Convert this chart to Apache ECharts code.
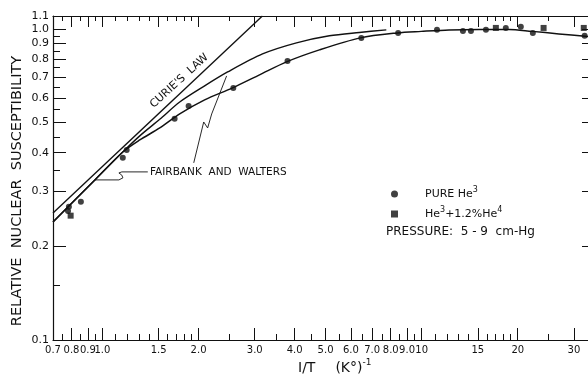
<!DOCTYPE html>
<html><head><meta charset="utf-8">
<script src="https://cdn.jsdelivr.net/npm/echarts@6/dist/echarts.min.js"></script>
<style>html,body{margin:0;padding:0;background:#fff}#c{width:588px;height:383px}</style>
</head><body><div id="c"></div>
<script>
// ---- axis ticks / labels ----
const xMajorTicks = [0.7,0.8,0.9,1,1.5,2,3,4,5,6,7,8,9,10,15,20,30];
const xTickLabels = ['0.7','0.8','0.9','1.0','1.5','2.0','3.0','4.0','5.0','6.0','7.0','8.0','9.0','10','15','20','30'];
const xMinorTicks = [0.75,0.85,0.95,1.1,1.2,1.3,1.4,1.6,1.7,1.8,1.9,2.5,3.5,4.5,5.5,6.5,7.5,8.5,9.5,11,12,13,14,16,17,18,19,25];
const yMajorTicks = [0.1,0.2,0.3,0.4,0.5,0.6,0.7,0.8,0.9,1.0,1.1];
const yTickLabels = ['0.1','0.2','0.3','0.4','0.5','0.6','0.7','0.8','0.9','1.0','1.1'];
const yMinorTicks = [0.15,0.35,0.45,0.55,0.65,0.75,0.85,0.95];

// ---- data: [1/T, relative susceptibility] ----
const pureHe3 = [[0.78,0.260],[0.785,0.268],[0.856,0.278],[1.158,0.385],[1.191,0.408],[1.683,0.514],[1.862,0.565],[2.57,0.646],[3.80,0.789],[6.47,0.935],[8.44,0.970],[11.17,0.993],[13.47,0.985],[14.27,0.985],[15.9,0.993],[18.35,1.007],[20.45,1.015],[22.3,0.970],[32.4,0.950]];
const he3He4 = [[0.795,0.251],[17.08,1.007],[24.1,1.007],[32.2,1.007]];
const curieLaw = [[0.7,0.256],[3.17,1.1]];
const fairbankWalters = [[0.7,0.2395],[0.947,0.327],[1.158,0.402],[1.309,0.453],[1.512,0.512],[1.746,0.582],[2.09,0.656],[2.467,0.727],[3.173,0.831],[4.054,0.902],[5.14,0.950],[6.38,0.974],[7.75,0.993]];
const fitCurve = [[0.7,0.2395],[0.947,0.327],[1.158,0.402],[1.309,0.4395],[1.512,0.4803],[1.746,0.533],[2.09,0.5914],[2.557,0.6463],[3.105,0.7114],[3.772,0.7833],[4.783,0.856],[6.427,0.9357],[8.388,0.9707],[9.97,0.9817],[12.19,0.9926],[15.13,0.9963],[18.78,0.9963],[22.16,0.9817],[26.92,0.9636],[33.2,0.9443]];
const pointerFW1 = [[0.947,0.327],[1.126,0.327],[1.159,0.332],[1.150,0.3387],[1.126,0.3443],[1.150,0.347],[1.387,0.347]];
const pointerFW2 = [[1.932,0.371],[2.076,0.502],[2.136,0.4803],[2.199,0.5327],[2.449,0.7059]];

const xMin = 0.7, xMax = 33.2, yMin = 0.1, yMax = 1.1;
const INK = '#111';
const FONT = "'DejaVu Sans', sans-serif";

function labelFor(v, ticks, labels) {
  for (let i = 0; i < ticks.length; i++) {
    if (Math.abs(ticks[i] - v) / ticks[i] < 1e-4) return labels[i];
  }
  return '';
}

function xAx(pos, ticks, len, line, labels) {
  return {
    type: 'log', min: xMin, max: xMax, position: pos,
    axisLine: {show: line, lineStyle: {color: INK, width: 1.2}},
    axisTick: {show: true, inside: true, length: len, customValues: ticks, lineStyle: {color: INK, width: 1}},
    axisLabel: labels ? {show: true, customValues: xMajorTicks, margin: 5, color: INK, fontFamily: FONT, fontSize: 10,
      formatter: v => labelFor(v, xMajorTicks, xTickLabels)} : {show: false},
    splitLine: {show: false}, minorTick: {show: false}
  };
}
function yAx(pos, ticks, len, line, labels) {
  return {
    type: 'log', min: yMin, max: yMax, position: pos,
    axisLine: {show: line, lineStyle: {color: INK, width: 1.2}},
    axisTick: {show: true, inside: true, length: len, customValues: ticks, lineStyle: {color: INK, width: 1}},
    axisLabel: labels ? {show: true, customValues: yMajorTicks, margin: 4, color: INK, fontFamily: FONT, fontSize: 11,
      formatter: v => labelFor(v, yMajorTicks, yTickLabels)} : {show: false},
    splitLine: {show: false}, minorTick: {show: false}
  };
}

const chart = echarts.init(document.getElementById('c'), null, {renderer: 'canvas'});
const lineS = (name, data, w, smooth) => ({
  name, type: 'line', data, xAxisIndex: 0, yAxisIndex: 0, showSymbol: false, symbol: 'none',
  smooth: smooth, lineStyle: {color: INK, width: w}, z: 2, silent: true
});
chart.setOption({
  animation: false,
  backgroundColor: '#fff',
  grid: {left: 53, right: -1, top: 16, bottom: 43, containLabel: false},
  xAxis: [
    xAx('bottom', xMajorTicks, 12, true, true),
    xAx('bottom', xMinorTicks, 6, false, false),
    xAx('top', xMajorTicks, 11, true, false),
    xAx('top', xMinorTicks, 5, false, false)
  ],
  yAxis: [
    yAx('left', yMajorTicks, 13, true, true),
    yAx('left', yMinorTicks, 7, false, false),
    yAx('right', yMajorTicks, 6, false, false)
  ],
  legend: {
    orient: 'vertical', left: 386, top: 181, itemGap: 5, itemWidth: 7, itemHeight: 7,
    data: [{name: 'PURE He3', icon: 'circle'}, {name: 'He3+1.2%He4', icon: 'rect'}],
    formatter: n => n === 'PURE He3' ? '{g|}PURE He{s|3}' : '{g|}He{s|3}+1.2%He{s|4}',
    textStyle: {color: INK, fontFamily: FONT, fontSize: 11, lineHeight: 14,
      rich: {g: {width: 22}, s: {fontSize: 8, fontFamily: FONT, color: INK, padding: [0, 0, 8, 0]}}},
    selectedMode: false
  },
  series: [
    lineS('Curie', curieLaw, 1.4, false),
    lineS('FW', fairbankWalters, 1.4, 0.3),
    lineS('fit', fitCurve, 1.5, 0.3),
    lineS('ptr1', pointerFW1, 0.9, false),
    lineS('ptr2', pointerFW2, 0.9, false),
    {name: 'PURE He3', type: 'scatter', data: pureHe3, symbol: 'circle', symbolSize: 6,
      itemStyle: {color: INK}, z: 3},
    {name: 'He3+1.2%He4', type: 'scatter', data: he3He4, symbol: 'rect', symbolSize: 6,
      itemStyle: {color: INK}, z: 3}
  ],
  graphic: [
    {type: 'text', x: 17, y: 191, rotation: Math.PI / 2,
      style: {text: 'RELATIVE  NUCLEAR  SUSCEPTIBILITY', font: "14.5px " + FONT, fill: INK, textAlign: 'center', textVerticalAlign: 'middle'}},
    {type: 'text', x: 298, y: 368,
      style: {text: '{a|I/T}{g|}{a|(K°)}{s|-1}', fill: INK, textAlign: 'left', textVerticalAlign: 'middle',
        rich: {a: {fontSize: 14, fontFamily: FONT, fill: INK}, g: {width: 20}, s: {fontSize: 9, fontFamily: FONT, fill: INK, padding: [0,0,10,0]}}}},
    {type: 'text', x: 183, y: 85, rotation: 42.5 * Math.PI / 180,
      style: {text: "CURIE'S  LAW", font: "11px " + FONT, fill: INK, textAlign: 'center', textVerticalAlign: 'bottom'}},
    {type: 'text', x: 150, y: 172,
      style: {text: 'FAIRBANK  AND  WALTERS', font: "10.5px " + FONT, fill: INK, textAlign: 'left', textVerticalAlign: 'middle'}},
    {type: 'text', x: 386, y: 232,
      style: {text: 'PRESSURE:  5 - 9  cm-Hg', font: "12px " + FONT, fill: INK, textAlign: 'left', textVerticalAlign: 'middle'}}
  ]
});
</script></body></html>
